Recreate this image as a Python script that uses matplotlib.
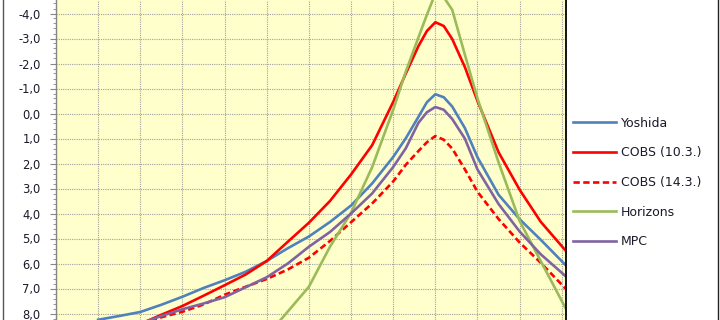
import numpy as np
import matplotlib
matplotlib.use("Agg")
import matplotlib.pyplot as plt
from matplotlib.lines import Line2D
from matplotlib.ticker import MultipleLocator

nan = np.nan
days = [5, 7.5, 10, 12.5, 15, 17.5, 20, 22.5, 25, 27.5, 30, 32.5, 35, 37.5,
        40, 41.5, 43, 44, 45, 46, 47, 48.5, 50, 52.5, 55, 57.5, 60.5]

yoshida = [8.25, 8.1, 7.94, 7.65, 7.33, 6.98, 6.67, 6.33, 5.9, 5.39, 4.92, 4.34, 3.68, 2.8,
           1.74, 0.99, 0.13, -0.45, -0.77, -0.65, -0.28, 0.58, 1.75, 3.25, 4.23, 5.05, 6.08]
cobs_10 = [nan, nan, 8.42, 8.05, 7.7, 7.29, 6.87, 6.44, 5.9, 5.13, 4.37, 3.5, 2.44, 1.27,
           -0.46, -1.6, -2.7, -3.3, -3.65, -3.5, -2.98, -1.86, -0.5, 1.55, 3.05, 4.33, 5.5]
cobs_14 = [nan, nan, 8.45, 8.15, 7.93, 7.64, 7.25, 6.93, 6.62, 6.24, 5.77, 5.1, 4.35, 3.6,
           2.72, 2.05, 1.5, 1.15, 0.9, 1.05, 1.4, 2.23, 3.13, 4.22, 5.16, 5.97, 7.02]
horizons = [nan, nan, nan, nan, nan, nan, nan, nan, 8.9, 7.92, 6.93, 5.33, 3.97, 2.15,
            -0.15, -1.68, -3.05, -3.95, -4.8, -4.65, -4.15, -2.36, -0.6, 1.95, 4.3, 5.9, 7.82]
mpc = [nan, nan, 8.4, 8.1, 7.83, 7.6, 7.35, 6.95, 6.55, 6.0, 5.33, 4.74, 4.0, 3.2,
       2.14, 1.39, 0.37, -0.05, -0.26, -0.15, 0.22, 1.0, 2.24, 3.62, 4.72, 5.63, 6.52]

series_names = ["Yoshida", "COBS (10.3.)", "COBS (14.3.)", "Horizons", "MPC"]
ytick_values = [-4, -3, -2, -1, 0, 1, 2, 3, 4, 5, 6, 7, 8]
ytick_labels = ["-4,0", "-3,0", "-2,0", "-1,0", "0,0", "1,0", "2,0", "3,0",
                "4,0", "5,0", "6,0", "7,0", "8,0"]

colors = ["#4F81BD", "#FF0000", "#FF0000", "#9BBB59", "#8064A2"]
styles = ["-", "-", (0, (2.4, 1.3)), "-", "-"]
data = [yoshida, cobs_10, cobs_14, horizons, mpc]

fig = plt.figure(figsize=(7.2, 3.2), dpi=100)
fig.patch.set_facecolor("white")
ax = fig.add_axes([56 / 720, 0, 510 / 720, 1])
ax.set_facecolor("#FFFFCC")

for vals, c, ls in zip(data, colors, styles):
    ax.plot(days, vals, color=c, linestyle=ls, linewidth=1.9, solid_joinstyle="round")

ax.set_xlim(0, 60.5)
ax.set_ylim(8.26, -4.54)
ax.set_xticks(np.arange(0, 61, 5))
ax.tick_params(axis="x", length=0, labelbottom=False)
ax.set_yticks(ytick_values)
ax.set_yticklabels(ytick_labels)
ax.yaxis.set_minor_locator(MultipleLocator(0.2))
ax.tick_params(axis="y", which="major", length=4, width=0.8, color="#868686",
               pad=7, labelsize=8.3, labelcolor="#1a1a2a")
ax.tick_params(axis="y", which="minor", length=2, width=0.6, color="#868686")
ax.grid(True, which="major", color="#a0a0a0", linestyle=(0, (1, 1)), linewidth=0.8)
ax.set_axisbelow(True)
for s in ["top", "bottom"]:
    ax.spines[s].set_visible(False)
ax.spines["left"].set_color("#868686")
ax.spines["left"].set_linewidth(1.0)
ax.spines["right"].set_color("#000000")
ax.spines["right"].set_linewidth(1.3)

handles = [Line2D([0], [0], color=c, linestyle=ls, linewidth=1.9)
           for c, ls in zip(colors, styles)]
fig.legend(handles, series_names, loc="center left",
           bbox_to_anchor=(573 / 720, 1 - 182.5 / 320), frameon=False,
           fontsize=9, handlelength=3.4, handletextpad=0.45, labelspacing=1.33,
           borderpad=0, borderaxespad=0, labelcolor="#1a1a2a")

fig.add_artist(Line2D([2.5 / 720, 2.5 / 720], [0, 1], transform=fig.transFigure,
                      color="#555555", linewidth=1.0))
fig.add_artist(Line2D([717.5 / 720, 717.5 / 720], [0, 1], transform=fig.transFigure,
                      color="#222222", linewidth=1.0))

fig.savefig("out.png", dpi=100)
